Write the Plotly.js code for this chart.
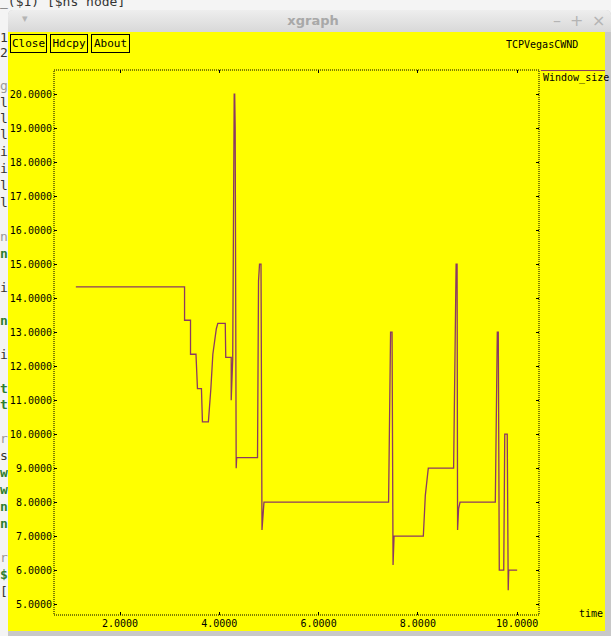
<!DOCTYPE html>
<html>
<head>
<meta charset="utf-8">
<script src="https://cdn.plot.ly/plotly-3.0.1.min.js"></script>
<style>
  html, body { margin:0; padding:0; width:611px; height:636px; overflow:hidden; background:#f4f4f4; font-family:"DejaVu Sans Mono", monospace; }
  #term { position:absolute; left:0; top:0; width:611px; height:636px; }
  .tc { position:absolute; font-family:"DejaVu Sans Mono", monospace; font-size:13px; color:#333; line-height:13px; }
  .tg { color:#2e7d32; font-weight:bold; }
  #win { position:absolute; left:8px; top:10px; width:603px; height:626px; background:#c8c8c8; border-radius:5px 5px 0 0; }
  #titlebar { position:absolute; left:0; top:0; width:603px; height:22px; border-radius:5px 5px 0 0;
              background:linear-gradient(#eeeeee,#d8d8d8); }
  #titlebar .t { position:absolute; left:0; width:610px; top:3px; text-align:center; font-family:"DejaVu Sans", sans-serif; font-weight:bold; font-size:13px; color:#a8a8a8; }
  #titlebar .ic { position:absolute; top:1px; font-family:"DejaVu Sans", sans-serif; font-size:16px; color:#b4b4b4; }
  #yellow { position:absolute; left:8px; top:32px; width:597px; height:599px; background:#ffff00; }
  .btn { position:absolute; top:34px; height:17px; border:1px solid #000; background:#ffff00; font-family:"DejaVu Sans Mono", monospace; font-size:11px; line-height:17px; color:#000; text-align:center; }
  #plot { position:absolute; left:0; top:0; width:611px; height:636px; }
</style>
</head>
<body>
<div id="term">
  <div class="tc" style="left:0;top:-5px;">_($1) [$ns node]</div>
  <div class="tc" style="left:0;top:31px;">1</div>
  <div class="tc" style="left:0;top:46px;">2</div>
  <div class="tc" style="left:0;top:79px;color:#999;">g</div>
  <div class="tc" style="left:0;top:96px;">l</div>
  <div class="tc" style="left:0;top:112px;">l</div>
  <div class="tc" style="left:0;top:128px;">l</div>
  <div class="tc" style="left:0;top:145px;">i</div>
  <div class="tc" style="left:0;top:162px;">i</div>
  <div class="tc" style="left:0;top:179px;">l</div>
  <div class="tc" style="left:0;top:196px;">l</div>
  <div class="tc" style="left:0;top:230px;color:#999;">n</div>
  <div class="tc tg" style="left:0;top:247px;">n</div>
  <div class="tc" style="left:0;top:281px;">i</div>
  <div class="tc tg" style="left:0;top:314px;">n</div>
  <div class="tc" style="left:0;top:348px;">i</div>
  <div class="tc tg" style="left:0;top:382px;">t</div>
  <div class="tc tg" style="left:0;top:398px;">t</div>
  <div class="tc" style="left:0;top:432px;color:#999;">r</div>
  <div class="tc" style="left:0;top:449px;">s</div>
  <div class="tc tg" style="left:0;top:466px;">w</div>
  <div class="tc tg" style="left:0;top:483px;">w</div>
  <div class="tc tg" style="left:0;top:500px;">n</div>
  <div class="tc tg" style="left:0;top:517px;">n</div>
  <div class="tc" style="left:0;top:551px;color:#999;">r</div>
  <div class="tc tg" style="left:0;top:568px;">$</div>
  <div class="tc" style="left:0;top:585px;">[</div>
</div>
<div id="win">
  <div id="titlebar">
    <div class="ic" style="left:14px;top:2px;font-size:11px;">&#9662;</div>
    <div class="t">xgraph</div>
    <div class="ic" style="left:545px;">&#8211;</div>
    <div class="ic" style="left:562px;">+</div>
    <div class="ic" style="left:584px;">&#215;</div>
  </div>
</div>
<div id="yellow"></div>
<div id="plot"></div>
<div class="btn" style="left:10px;width:35px;">Close</div>
<div class="btn" style="left:50px;width:36px;">Hdcpy</div>
<div class="btn" style="left:91px;width:37px;">About</div>
<script>
// Data (time in s, congestion window)
const seriesName = "Window_size";
const chartTitle = "TCPVegasCWND";
const xLabel = "time";
const time = [1.11, 3.30, 3.30, 3.42, 3.42, 3.53, 3.56, 3.64, 3.66, 3.78, 3.83, 3.87, 3.94, 3.97, 4.12, 4.13, 4.24,
              4.24, 4.27, 4.28, 4.30, 4.30, 4.31, 4.32, 4.34, 4.35, 4.77, 4.78, 4.79, 4.81, 4.84, 4.86, 4.88, 4.90,
              7.41, 7.42, 7.45, 7.48, 7.50, 7.52, 8.11, 8.15, 8.21, 8.72, 8.74, 8.77, 8.79, 8.80, 8.82, 8.85,
              9.56, 9.58, 9.60, 9.62, 9.64, 9.73, 9.75, 9.80, 9.82, 9.83, 10.00];
const cwnd = [14.33, 14.33, 13.35, 13.35, 12.35, 12.35, 11.34, 11.34, 10.36, 10.36, 11.34, 12.35, 13.1, 13.26, 13.26, 12.26, 12.26,
              11.0, 12.2, 16.0, 19.0, 20.0, 20.0, 19.0, 9.0, 9.31, 9.31, 11.0, 14.5, 15.0, 15.0, 7.18, 7.8, 8.0,
              8.0, 9.5, 13.0, 13.0, 6.15, 7.0, 7.0, 8.2, 9.0, 9.0, 12.0, 15.0, 15.0, 7.18, 7.8, 8.0,
              8.0, 11.0, 13.0, 13.0, 6.0, 6.0, 10.0, 10.0, 5.41, 6.0, 6.0];
const xRange = [0.67, 10.44];
const yRange = [4.68, 20.71];

const lineColor = "#8b3a62";
const mono = "DejaVu Sans Mono, monospace";

const trace = {
  x: time, y: cwnd, type: "scatter", mode: "lines", name: seriesName,
  line: {color: lineColor, width: 1.3}, hoverinfo: "x+y"
};

const layout = {
  width: 611, height: 636,
  margin: {l: 54, r: 72, t: 70, b: 21},
  paper_bgcolor: "rgba(0,0,0,0)",
  plot_bgcolor: "#ffff00",
  showlegend: false,
  xaxis: {
    range: xRange, tick0: 0, dtick: 2, tickformat: ".4f",
    showgrid: false, zeroline: false, showline: false,
    ticks: "inside", ticklen: 3, tickcolor: "#000", mirror: "ticks",
    tickfont: {family: mono, size: 10, color: "#000"},
    ticklabelstandoff: 1
  },
  yaxis: {
    range: yRange, tick0: 0, dtick: 1, tickformat: ".4f",
    showgrid: false, zeroline: false, showline: false,
    ticks: "inside", ticklen: 3, tickcolor: "#000", mirror: "ticks",
    tickfont: {family: mono, size: 10, color: "#000"},
    ticklabelstandoff: 1
  },
  shapes: [
    {type: "rect", xref: "paper", yref: "paper", x0: 0, x1: 1, y0: 0, y1: 1,
     line: {color: "#000", width: 1, dash: "1px,1px"}},
    {type: "line", xref: "paper", yref: "paper", x0: 1.004, x1: 1.136, y0: 0.999, y1: 0.999,
     line: {color: lineColor, width: 1}}
  ],
  annotations: [
    {text: chartTitle, xref: "paper", yref: "paper", x: 1.0845, y: 1.046, xanchor: "right", yanchor: "middle",
     showarrow: false, font: {family: mono, size: 10, color: "#000"}},
    {text: seriesName, xref: "paper", yref: "paper", x: 1.004, y: 0.986, xanchor: "left", yanchor: "middle",
     showarrow: false, font: {family: mono, size: 10, color: "#000"}},
    {text: xLabel, xref: "paper", yref: "paper", x: 1.136, y: 0.002, xanchor: "right", yanchor: "middle",
     showarrow: false, font: {family: mono, size: 10, color: "#000"}}
  ]
};

Plotly.newPlot("plot", [trace], layout, {displayModeBar: false, staticPlot: true});
</script>
</body>
</html>
